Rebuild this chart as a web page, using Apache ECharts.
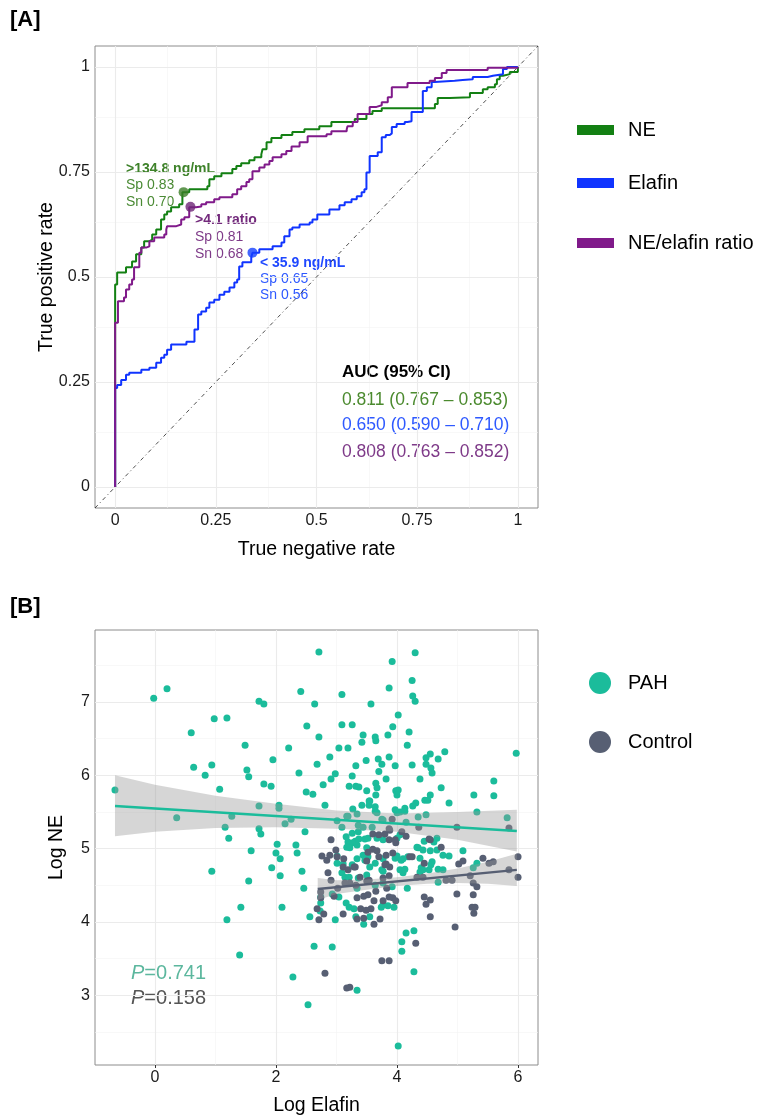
<!DOCTYPE html>
<html>
<head>
<meta charset="utf-8">
<script src="https://cdn.jsdelivr.net/npm/echarts@6/dist/echarts.min.js"></script>
<style>
html, body { margin: 0; padding: 0; background: #fff; }
#chart { width: 757px; height: 1115px; }
</style>
</head>
<body>
<div id="chart"></div>
<script>
// ---- panel A: ROC curves, [1 - specificity, sensitivity] corners of each step
var neRoc = [[0,0],[0,0.482],[0.005,0.511],[0.027,0.523],[0.042,0.537],[0.052,0.554],[0.065,0.570],[0.072,0.585],[0.085,0.589],[0.092,0.601],[0.102,0.613],[0.114,0.637],[0.122,0.649],[0.129,0.656],[0.139,0.666],[0.159,0.673],[0.167,0.702],[0.184,0.709],[0.229,0.716],[0.234,0.733],[0.246,0.740],[0.264,0.747],[0.291,0.757],[0.301,0.764],[0.313,0.771],[0.333,0.778],[0.346,0.785],[0.363,0.792],[0.366,0.804],[0.376,0.821],[0.388,0.831],[0.413,0.838],[0.440,0.845],[0.470,0.852],[0.507,0.859],[0.537,0.869],[0.595,0.876],[0.624,0.888],[0.639,0.895],[0.662,0.902],[0.794,0.912],[0.801,0.926],[0.831,0.928],[0.881,0.938],[0.913,0.947],[0.925,0.952],[0.943,0.959],[0.948,0.971],[0.955,0.979],[0.963,0.983],[0.980,0.988],[1,1]];
var elafinRoc = [[0,0],[0,0.236],[0.005,0.243],[0.015,0.255],[0.027,0.267],[0.035,0.272],[0.065,0.279],[0.085,0.284],[0.102,0.296],[0.114,0.308],[0.122,0.315],[0.129,0.327],[0.139,0.339],[0.177,0.346],[0.197,0.375],[0.206,0.411],[0.214,0.418],[0.226,0.427],[0.234,0.439],[0.246,0.446],[0.259,0.458],[0.271,0.465],[0.284,0.475],[0.296,0.487],[0.303,0.494],[0.308,0.525],[0.316,0.535],[0.338,0.547],[0.341,0.558],[0.358,0.566],[0.391,0.573],[0.413,0.582],[0.420,0.597],[0.433,0.613],[0.440,0.618],[0.458,0.625],[0.483,0.630],[0.490,0.637],[0.502,0.649],[0.532,0.661],[0.557,0.671],[0.570,0.678],[0.587,0.685],[0.600,0.692],[0.612,0.702],[0.619,0.709],[0.624,0.749],[0.632,0.788],[0.652,0.797],[0.662,0.833],[0.672,0.838],[0.682,0.842],[0.687,0.857],[0.699,0.864],[0.719,0.869],[0.726,0.871],[0.736,0.893],[0.764,0.943],[0.774,0.952],[0.786,0.964],[0.794,0.967],[0.843,0.969],[0.863,0.971],[0.888,0.976],[0.925,0.979],[0.938,0.983],[0.963,0.995],[0.973,1],[1,1]];
var ratioRoc = [[0,0],[0,0.391],[0.007,0.442],[0.022,0.451],[0.027,0.470],[0.035,0.482],[0.042,0.494],[0.047,0.523],[0.060,0.558],[0.065,0.570],[0.077,0.573],[0.085,0.585],[0.097,0.594],[0.122,0.601],[0.127,0.613],[0.129,0.621],[0.152,0.625],[0.164,0.637],[0.172,0.642],[0.184,0.666],[0.201,0.668],[0.214,0.673],[0.226,0.678],[0.246,0.685],[0.259,0.690],[0.291,0.697],[0.303,0.709],[0.313,0.716],[0.326,0.726],[0.333,0.733],[0.341,0.752],[0.358,0.761],[0.371,0.768],[0.383,0.776],[0.391,0.785],[0.413,0.792],[0.425,0.800],[0.438,0.811],[0.458,0.821],[0.478,0.835],[0.525,0.840],[0.537,0.847],[0.575,0.852],[0.577,0.859],[0.590,0.869],[0.602,0.888],[0.632,0.905],[0.649,0.909],[0.662,0.916],[0.677,0.928],[0.687,0.952],[0.726,0.962],[0.781,0.967],[0.794,0.974],[0.811,0.986],[0.823,0.993],[0.925,0.998],[1,1]];
var chanceLine = [[-0.05,-0.05],[1.05,1.05]];
var neCut = [0.17, 0.702];
var ratioCut = [0.187, 0.667];
var elafinCut = [0.341, 0.558];
var rocTicks = [0, 0.25, 0.5, 0.75, 1];
var rocMinor = [0.125, 0.375, 0.625, 0.875];
var rocNames = ['NE', 'Elafin', 'NE/elafin ratio'];
var aucLines = ['0.811 (0.767 \u2013 0.853)', '0.650 (0.590 \u2013 0.710)', '0.808 (0.763 \u2013 0.852)'];

// ---- panel B: log elafin vs log NE
var pahPoints = [[2.71,7.68],[3.92,7.55],[4.30,7.67],[0.20,7.18],[-0.02,7.05],[2.41,7.14],[3.87,7.19],[4.25,7.29],[4.26,7.08],[4.30,7.01],[1.72,7.01],[1.80,6.97],[2.64,6.97],[3.09,7.10],[3.57,6.97],[4.02,6.82],[0.98,6.77],[1.19,6.78],[2.51,6.67],[3.09,6.69],[3.26,6.69],[3.93,6.66],[0.60,6.58],[2.71,6.52],[3.44,6.55],[3.64,6.52],[3.85,6.55],[4.20,6.59],[3.42,6.45],[3.65,6.47],[1.49,6.41],[2.21,6.37],[3.04,6.37],[3.19,6.37],[4.17,6.41],[2.89,6.25],[4.48,6.24],[4.55,6.29],[4.79,6.32],[5.97,6.30],[4.68,6.22],[3.69,6.22],[3.87,6.25],[3.49,6.20],[1.95,6.21],[0.64,6.11],[0.94,6.14],[1.52,6.07],[2.68,6.15],[3.32,6.13],[3.75,6.15],[3.97,6.13],[4.25,6.14],[4.48,6.15],[4.56,6.10],[4.58,6.03],[0.83,6.00],[1.55,5.98],[2.38,6.03],[2.98,6.02],[3.26,5.99],[3.70,6.05],[2.91,5.95],[3.82,5.95],[4.38,5.95],[5.60,5.92],[3.65,5.89],[-0.66,5.80],[1.07,5.81],[1.80,5.88],[1.92,5.85],[2.78,5.87],[3.21,5.85],[3.32,5.85],[3.37,5.84],[3.50,5.79],[3.67,5.83],[3.98,5.79],[4.02,5.80],[4.00,5.73],[4.73,5.83],[2.50,5.77],[2.61,5.74],[3.65,5.73],[4.55,5.73],[5.27,5.73],[5.60,5.72],[2.81,5.59],[3.27,5.54],[3.42,5.59],[3.54,5.65],[3.54,5.59],[3.64,5.57],[4.31,5.62],[4.46,5.66],[4.51,5.66],[4.86,5.62],[4.13,5.55],[3.64,5.51],[3.67,5.49],[4.00,5.49],[4.05,5.50],[4.13,5.51],[5.32,5.50],[1.72,5.58],[2.05,5.59],[2.05,5.55],[0.36,5.42],[1.27,5.44],[2.25,5.40],[3.19,5.44],[3.34,5.47],[3.75,5.40],[4.35,5.43],[4.48,5.46],[5.82,5.42],[2.15,5.34],[3.01,5.38],[4.15,5.36],[3.09,5.29],[3.36,5.32],[3.44,5.29],[3.59,5.29],[1.16,5.29],[1.72,5.27],[1.22,5.14],[1.75,5.20],[2.48,5.23],[3.16,5.16],[3.26,5.21],[3.19,5.09],[3.27,5.08],[3.34,5.05],[3.17,5.02],[3.22,5.01],[3.31,5.10],[3.37,5.13],[3.47,5.13],[3.50,5.01],[3.01,4.90],[3.01,4.80],[3.11,4.79],[3.34,4.86],[3.44,4.91],[3.52,4.89],[3.64,4.80],[3.77,4.86],[4.00,4.90],[4.10,4.86],[4.18,4.89],[4.35,5.01],[4.43,4.98],[4.55,4.97],[4.66,5.14],[4.76,4.91],[4.86,4.90],[5.09,4.97],[4.38,4.87],[4.43,4.71],[4.58,4.82],[3.77,5.12],[4.00,5.14],[4.05,5.19],[4.45,5.10],[5.32,4.80],[5.26,4.74],[4.68,4.54],[2.74,4.34],[0.94,4.69],[1.59,4.97],[1.55,4.56],[1.93,4.74],[2.00,4.94],[2.02,5.06],[2.07,4.86],[2.07,4.63],[2.33,5.05],[2.35,4.94],[2.43,4.69],[2.46,4.46],[1.42,4.20],[1.19,4.03],[2.10,4.20],[2.56,4.07],[2.63,3.67],[2.93,3.66],[2.98,4.03],[2.73,4.15],[2.74,4.26],[1.40,3.55],[2.28,3.25],[2.53,2.87],[3.34,3.07],[4.02,2.31],[4.08,3.73],[4.08,3.60],[4.15,3.85],[4.28,3.88],[4.28,3.32],[3.45,3.97],[3.21,4.20],[3.29,4.18],[3.77,4.23],[3.85,4.22],[4.17,4.46],[3.50,4.64],[3.77,4.69],[4.10,4.67],[4.40,4.74],[4.53,4.71],[4.68,4.72],[3.26,4.78],[3.09,4.67],[4.61,5.09],[4.33,5.02],[4.66,4.98],[4.56,4.78],[4.76,4.71],[4.38,4.68],[3.67,5.14],[3.36,5.23],[3.52,5.14],[3.47,4.84],[3.97,4.87],[4.07,4.84],[4.05,4.71],[4.13,4.72],[3.75,4.71],[3.55,4.75],[3.14,4.61],[3.21,4.61],[3.36,4.60],[3.64,4.50],[3.77,4.53],[3.92,4.48],[3.34,4.46],[3.04,4.34],[3.16,4.26],[3.32,4.07],[3.55,4.07],[3.74,4.20],[3.95,4.20],[2.93,4.38],[3.77,5.39],[3.97,5.53],[4.26,5.58],[3.55,5.65],[3.17,5.44]];
var controlPoints = [[3.92,5.40],[3.87,5.27],[4.36,5.29],[4.99,5.29],[5.85,5.28],[2.91,5.12],[2.76,4.90],[2.84,4.84],[2.89,4.91],[3.01,4.89],[3.12,4.86],[3.11,4.75],[2.86,4.67],[3.29,4.75],[3.60,5.20],[3.70,5.19],[3.80,5.20],[4.08,5.23],[4.15,5.17],[3.87,5.12],[3.98,5.08],[3.52,4.95],[3.60,4.99],[3.67,4.97],[3.70,4.89],[3.82,4.91],[3.93,4.94],[4.21,4.89],[3.82,4.79],[3.88,4.75],[4.55,5.12],[4.73,5.02],[4.45,4.80],[5.02,4.79],[5.09,4.83],[5.42,4.87],[5.52,4.80],[5.59,4.82],[6.00,4.89],[6.00,4.61],[5.21,4.63],[5.26,4.53],[5.32,4.48],[4.91,4.57],[4.81,4.57],[4.43,4.61],[3.39,4.61],[3.22,4.53],[3.50,4.56],[3.83,4.46],[3.65,4.42],[3.52,4.37],[3.45,4.35],[3.34,4.33],[3.62,4.29],[3.77,4.29],[3.93,4.33],[3.98,4.29],[2.96,4.35],[2.68,4.18],[2.71,4.03],[3.11,4.11],[3.40,4.18],[3.57,4.18],[3.34,4.04],[3.45,4.05],[3.72,4.04],[3.62,3.97],[4.45,4.34],[4.48,4.24],[4.55,4.30],[4.99,4.38],[5.26,4.37],[5.24,4.20],[5.27,4.12],[4.55,4.07],[4.96,3.93],[4.31,3.71],[3.75,3.47],[3.87,3.47],[2.81,3.30],[3.17,3.10],[3.22,3.11],[2.99,4.98],[3.19,4.71],[3.31,4.75],[3.88,5.25],[3.97,5.12],[3.80,4.78],[3.50,4.83],[2.91,4.57],[3.02,4.46],[3.14,4.53],[3.32,4.50],[3.54,4.57],[3.77,4.60],[3.87,4.63],[2.74,4.41],[2.74,4.33],[3.87,4.34],[2.79,4.11],[3.49,4.16],[4.53,5.13],[4.25,4.89],[5.85,4.71],[4.33,4.61],[5.29,4.20]];
var pahFit = [[-0.66,5.58],[5.98,5.24]];
var pahBandX = [-0.66, 0, 1, 2, 3, 4, 5, 5.98];
var pahBandHigh = [6.00, 5.87, 5.72, 5.61, 5.52, 5.48, 5.50, 5.53];
var pahBandLow = [5.17, 5.23, 5.28, 5.29, 5.27, 5.23, 5.12, 4.96];
var ctrlFit = [[2.69,4.45],[5.98,4.71]];
var ctrlBandX = [2.69, 3.0, 3.5, 4.0, 4.5, 5.0, 5.5, 5.98];
var ctrlBandHigh = [4.60, 4.57, 4.58, 4.61, 4.66, 4.73, 4.82, 4.93];
var ctrlBandLow = [4.30, 4.38, 4.44, 4.49, 4.52, 4.53, 4.52, 4.49];
var elafinTicks = [0, 2, 4, 6];
var elafinMinor = [1, 3, 5];
var neTicks = [3, 4, 5, 6, 7];
var neMinor = [2.5, 3.5, 4.5, 5.5, 6.5, 7.5];
var groupNames = ['PAH', 'Control'];
var pValues = ['0.741', '0.158'];

var FONT = 'Liberation Sans, Arial, sans-serif';
var cNE = '#138013', cElafin = '#1034FF', cRatio = '#801A8A';
var cPAH = '#1BBC9B', cCtrl = '#575F73';

function gridLines(idx, xs, ys, color, width) {
	var d = [];
	xs.forEach(function(v) { d.push({ xAxis: v }); });
	ys.forEach(function(v) { d.push({ yAxis: v }); });
	return {
		type: 'line', xAxisIndex: idx, yAxisIndex: idx, data: [], silent: true,
		markLine: {
			z: 1, silent: true, symbol: ['none', 'none'], animation: false,
			label: { show: false }, emphasis: { disabled: true },
			lineStyle: { color: color, width: width, type: 'solid' },
			data: d
		}
	};
}

function band(xs, lo, hi) {
	return {
		type: 'custom', xAxisIndex: 1, yAxisIndex: 1, z: 4, silent: true,
		data: [[xs[0], lo[0]]],
		renderItem: function(params, api) {
			var pts = [], i;
			for (i = 0; i < xs.length; i++) pts.push(api.coord([xs[i], hi[i]]));
			for (i = xs.length - 1; i >= 0; i--) pts.push(api.coord([xs[i], lo[i]]));
			return { type: 'polygon', shape: { points: pts }, style: { fill: 'rgba(153,153,153,0.4)' } };
		}
	};
}

function axis(idx, min, max, ticks, name, gap) {
	return {
		type: 'value', gridIndex: idx, min: min, max: max,
		name: name, nameLocation: 'middle', nameGap: gap, nameMoveOverlap: false,
		nameTextStyle: { fontFamily: FONT, fontSize: 19.5, color: '#000' },
		axisLine: { show: false },
		axisTick: { show: true, length: 3, customValues: ticks, lineStyle: { color: '#333', width: 1 } },
		axisLabel: { customValues: ticks, fontFamily: FONT, fontSize: 16, color: '#1a1a1a', margin: 5,
			formatter: function(v) { return String(v); } },
		splitLine: { show: false }
	};
}

function txt(x, y, s, color, size, bold) {
	return { type: 'text', x: x, y: y, silent: true, style: {
		text: s, fill: color, font: (bold ? 'bold ' : '') + size + 'px ' + FONT,
		align: 'left', verticalAlign: 'middle', textAlign: 'left', textVerticalAlign: 'middle' } };
}

var chart = echarts.init(document.getElementById('chart'), null, { renderer: 'canvas' });

var graphics = [
	txt(10, 20, '[A]', '#000', 22, true),
	txt(10, 607, '[B]', '#000', 22, true),
	txt(126, 169, '>134.8 ng/mL', '#3E822A', 14, true),
	txt(126, 185, 'Sp 0.83', '#4A8A34', 14, false),
	txt(126, 202, 'Sn 0.70', '#4A8A34', 14, false),
	txt(195, 220, '>4.1 ratio', '#732A7C', 14, true),
	txt(195, 237, 'Sp 0.81', '#7E3A88', 14, false),
	txt(195, 254, 'Sn 0.68', '#7E3A88', 14, false),
	txt(260, 263, '< 35.9 ng/mL', '#1F48FF', 14, true),
	txt(260, 279, 'Sp 0.65', '#2D58FF', 14, false),
	txt(260, 295, 'Sn 0.56', '#2D58FF', 14, false),
	txt(342, 372, 'AUC (95% CI)', '#000', 17, true),
	txt(342, 400, aucLines[0], '#4B8A2E', 17.5, false),
	txt(342, 425, aucLines[1], '#2E59FF', 17.5, false),
	txt(342, 452, aucLines[2], '#7E3A88', 17.5, false)
];
var legendY = [130, 183, 243], legendC = [cNE, cElafin, cRatio];
rocNames.forEach(function(n, i) {
	graphics.push({ type: 'rect', silent: true, shape: { x: 577, y: legendY[i] - 5, width: 37, height: 10 }, style: { fill: legendC[i] } });
	graphics.push(txt(628, legendY[i], n, '#000', 20, false));
});
var legendY2 = [683, 742], legendC2 = [cPAH, cCtrl];
groupNames.forEach(function(n, i) {
	graphics.push({ type: 'circle', silent: true, shape: { cx: 600, cy: legendY2[i], r: 11 }, style: { fill: legendC2[i] } });
	graphics.push(txt(628, legendY2[i], n, '#000', 20, false));
});
var pColors = ['#5CB79E', '#555555'], pY = [973, 998];
pValues.forEach(function(p, i) {
	graphics.push({ type: 'text', x: 131, y: pY[i], silent: true, style: {
		text: '{i|P}{n|=' + p + '}', align: 'left', verticalAlign: 'middle', textVerticalAlign: 'middle',
		rich: {
			i: { fontStyle: 'italic', fontSize: 20, fontFamily: FONT, fill: pColors[i] },
			n: { fontSize: 20, fontFamily: FONT, fill: pColors[i] }
		} } });
});

var option = {
	animation: false,
	backgroundColor: '#fff',
	textStyle: { fontFamily: FONT },
	grid: [
		{ left: 95, top: 46, width: 443, height: 462, show: true, borderColor: '#8c8c8c', borderWidth: 1, backgroundColor: 'transparent', outerBoundsMode: 'none' },
		{ left: 95, top: 630, width: 443, height: 435, show: true, borderColor: '#8c8c8c', borderWidth: 1, backgroundColor: 'transparent', outerBoundsMode: 'none' }
	],
	xAxis: [
		axis(0, -0.05, 1.05, rocTicks, 'True negative rate', 32),
		axis(1, -0.99, 6.33, elafinTicks, 'Log Elafin', 31)
	],
	yAxis: [
		axis(0, -0.05, 1.05, rocTicks, 'True positive rate', 38),
		axis(1, 2.05, 7.98, neTicks, 'Log NE', 28)
	],
	graphic: graphics,
	series: [
		gridLines(0, rocMinor, rocMinor, '#F3F3F3', 0.6),
		gridLines(0, rocTicks, rocTicks, '#EBEBEB', 1.1),
		gridLines(1, elafinMinor, neMinor, '#F3F3F3', 0.6),
		gridLines(1, elafinTicks, neTicks, '#EBEBEB', 1.1),
		{ type: 'line', xAxisIndex: 0, yAxisIndex: 0, data: chanceLine, symbol: 'none', z: 2, silent: true,
			lineStyle: { color: '#222', width: 0.8, type: [4, 3, 1, 3] } },
		{ name: rocNames[0], type: 'line', xAxisIndex: 0, yAxisIndex: 0, data: neRoc, step: 'end', symbol: 'none', z: 3,
			lineStyle: { color: cNE, width: 2 } },
		{ name: rocNames[1], type: 'line', xAxisIndex: 0, yAxisIndex: 0, data: elafinRoc, step: 'end', symbol: 'none', z: 3,
			lineStyle: { color: cElafin, width: 2 } },
		{ name: rocNames[2], type: 'line', xAxisIndex: 0, yAxisIndex: 0, data: ratioRoc, step: 'end', symbol: 'none', z: 3,
			lineStyle: { color: cRatio, width: 2 } },
		{ type: 'scatter', xAxisIndex: 0, yAxisIndex: 0, z: 5, symbolSize: 10, data: [neCut], itemStyle: { color: '#3A7D25' } },
		{ type: 'scatter', xAxisIndex: 0, yAxisIndex: 0, z: 5, symbolSize: 10, data: [ratioCut], itemStyle: { color: '#6E2777' } },
		{ type: 'scatter', xAxisIndex: 0, yAxisIndex: 0, z: 5, symbolSize: 10, data: [elafinCut], itemStyle: { color: '#1440FF' } },
		{ name: groupNames[0], type: 'scatter', xAxisIndex: 1, yAxisIndex: 1, z: 3, symbolSize: 7, data: pahPoints,
			itemStyle: { color: cPAH, opacity: 1 } },
		{ name: groupNames[1], type: 'scatter', xAxisIndex: 1, yAxisIndex: 1, z: 3, symbolSize: 7, data: controlPoints,
			itemStyle: { color: cCtrl, opacity: 1 } },
		band(pahBandX, pahBandLow, pahBandHigh),
		band(ctrlBandX, ctrlBandLow, ctrlBandHigh),
		{ type: 'line', xAxisIndex: 1, yAxisIndex: 1, data: pahFit, symbol: 'none', z: 5, silent: true,
			lineStyle: { color: cPAH, width: 2.5 } },
		{ type: 'line', xAxisIndex: 1, yAxisIndex: 1, data: ctrlFit, symbol: 'none', z: 5, silent: true,
			lineStyle: { color: cCtrl, width: 2.5 } }
	]
};
chart.setOption(option);
</script>
</body>
</html>
